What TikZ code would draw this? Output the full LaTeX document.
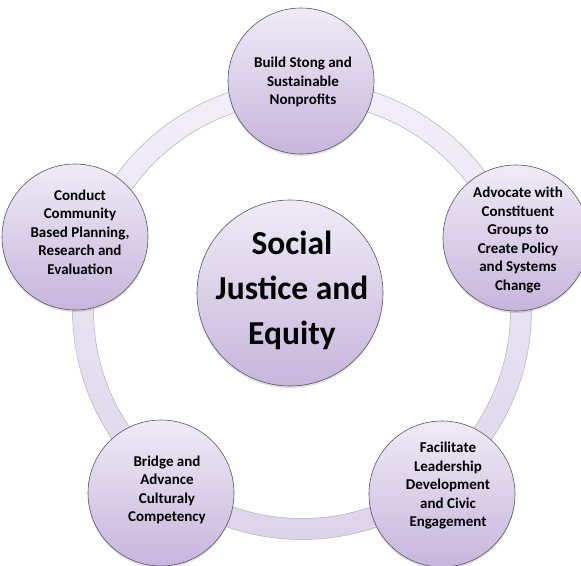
\documentclass[tikz,border=0pt]{standalone}
\usepackage{fontspec}
\setmainfont{Carlito}
\usetikzlibrary{shadows}
\definecolor{ctop}{HTML}{EEEBF6}
\definecolor{cbot}{HTML}{C7B5DC}
\definecolor{rtop}{HTML}{F2EFF9}
\definecolor{rbot}{HTML}{DDD4EC}
\definecolor{edgec}{HTML}{5A5560}
\tikzset{
  bubble/.style={circle, draw=edgec, line width=0.6pt, top color=ctop, bottom color=cbot,
    inner sep=0pt, drop shadow={opacity=0.25, shadow xshift=0pt, shadow yshift=-2pt}},
  smallbubble/.style={bubble, minimum size=146pt},
  bigbubble/.style={bubble, minimum size=186pt},
  txt/.style={align=center, font=\fontsize{15}{18.5}\selectfont\bfseries, text=black, inner sep=0pt},
  bigtxt/.style={align=center, font=\fontsize{33.5}{45}\selectfont\bfseries, text=black, inner sep=0pt},
  ringedge/.style={draw=gray!60, line width=0.5pt},
}
\begin{document}
\begin{tikzpicture}[x=1pt,y=-1pt]
\useasboundingbox (0,0) rectangle (581,565);
\fill[white] (0,0) rectangle (581,565);
\coordinate (rc) at (302,310);
\shade[top color=rtop, bottom color=rbot, even odd rule] (rc) circle[radius=229.5pt] (rc) circle[radius=208.5pt];
\draw[ringedge] (rc) circle[radius=229.5pt];
\draw[ringedge] (rc) circle[radius=208.5pt];

\node[smallbubble] (ctop) at (301,81) {};
\node[smallbubble] (cright) at (516,238) {};
\node[smallbubble] (cbr) at (442,494) {};
\node[smallbubble] (cbl) at (161,493) {};
\node[smallbubble] (cleft) at (75,237) {};
\node[bigbubble] (ccenter) at (290,293) {};

\node[txt] (ttop) at (303,82) {Build Stong and\\Sustainable\\Nonprofits};
\node[txt] (tright) at (518,240) {Advocate with\\Constituent\\Groups to\\Create Policy\\and Systems\\Change};
\node[txt] (tbr) at (448,486) {Facilitate\\Leadership\\Development\\and Civic\\Engagement};
\node[txt] (tbl) at (167,490) {Bridge and\\Advance\\Culturaly\\Competency};
\node[txt] (tleft) at (80,232) {Conduct\\Community\\Based Planning,\\Research and\\Evaluation};
\node[bigtxt] (tcenter) at (292,290) {Social\\Justice and\\Equity};
\end{tikzpicture}
\end{document}
